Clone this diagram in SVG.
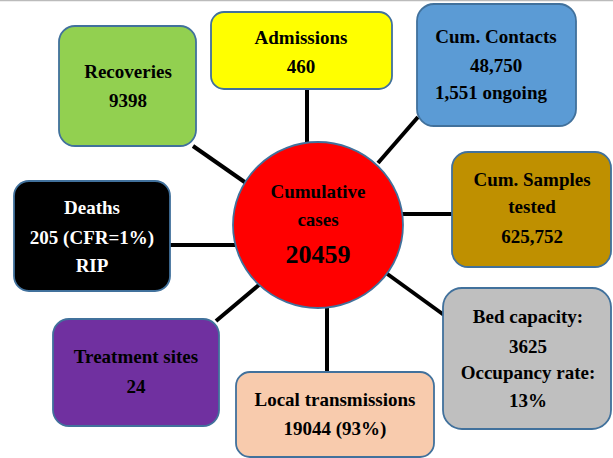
<svg xmlns="http://www.w3.org/2000/svg" width="613" height="458" viewBox="0 0 613 458">
<style>
.box{stroke:#41719C;stroke-width:1.8}
.t{font-family:"Liberation Serif","DejaVu Serif",serif;font-weight:bold;font-size:19px;text-anchor:middle;fill:#000}
.w{fill:#fff}
.big{font-size:26px}
.c{stroke:#000;stroke-width:4;fill:none}
</style>
<rect x="0" y="0" width="613" height="458" fill="#fff"/>
<line x1="0" y1="0.5" x2="613" y2="0.5" stroke="#bbb" stroke-width="1.5"/>
<g id="connectors">
<line class="c" x1="307" y1="89" x2="307" y2="145"/>
<line class="c" x1="193" y1="146" x2="246" y2="183"/>
<line class="c" x1="418" y1="117" x2="378" y2="163"/>
<line class="c" x1="400" y1="214" x2="452" y2="214"/>
<line class="c" x1="170" y1="245" x2="235" y2="245"/>
<line class="c" x1="386" y1="273" x2="444" y2="315"/>
<line class="c" x1="327" y1="305" x2="327" y2="372"/>
<line class="c" x1="216" y1="321" x2="260" y2="284"/>
</g>
<g id="cumulative">
<ellipse cx="318" cy="225" rx="85" ry="83" fill="#FF0000" stroke="#41719C" stroke-width="1.8"/>
<text class="t" x="318" y="198">Cumulative</text>
<text class="t" x="318" y="226">cases</text>
<text class="t big" x="318" y="263">20459</text>
</g>
<g id="recoveries">
<rect class="box" x="59" y="26" width="137" height="120" rx="16" fill="#92D050"/>
<text class="t" x="128" y="78">Recoveries</text>
<text class="t" x="128" y="107">9398</text>
</g>
<g id="admissions">
<rect class="box" x="211" y="12" width="181" height="77" rx="13" fill="#FFFF00"/>
<text class="t" x="301" y="44">Admissions</text>
<text class="t" x="301" y="73">460</text>
</g>
<g id="contacts">
<rect class="box" x="417" y="4" width="159" height="122" rx="17" fill="#5B9BD5"/>
<text class="t" x="496" y="43">Cum. Contacts</text>
<text class="t" x="496" y="72">48,750</text>
<text class="t" x="491" y="99">1,551 ongoing</text>
</g>
<g id="samples">
<rect class="box" x="452" y="152" width="159" height="115" rx="16" fill="#BF9000"/>
<text class="t" x="532" y="186">Cum. Samples</text>
<text class="t" x="532" y="213">tested</text>
<text class="t" x="532" y="243">625,752</text>
</g>
<g id="bed">
<rect class="box" x="443" y="288" width="168" height="141" rx="19" fill="#BFBFBF"/>
<text class="t" x="528" y="323">Bed capacity:</text>
<text class="t" x="528" y="353">3625</text>
<text class="t" x="528" y="379">Occupancy rate:</text>
<text class="t" x="528" y="407">13%</text>
</g>
<g id="local">
<rect class="box" x="236" y="372" width="198" height="85" rx="14" fill="#F8CBAD"/>
<text class="t" x="335" y="406">Local transmissions</text>
<text class="t" x="335" y="435">19044 (93%)</text>
</g>
<g id="treatment">
<rect class="box" x="53" y="319" width="166" height="107" rx="16" fill="#7030A0"/>
<text class="t" x="136" y="363">Treatment sites</text>
<text class="t" x="136" y="393">24</text>
</g>
<g id="deaths">
<rect class="box" x="14" y="181" width="156" height="110" rx="15" fill="#000000"/>
<text class="t w" x="92" y="214">Deaths</text>
<text class="t w" x="92" y="244">205 (CFR=1%)</text>
<text class="t w" x="92" y="272">RIP</text>
</g>
</svg>
